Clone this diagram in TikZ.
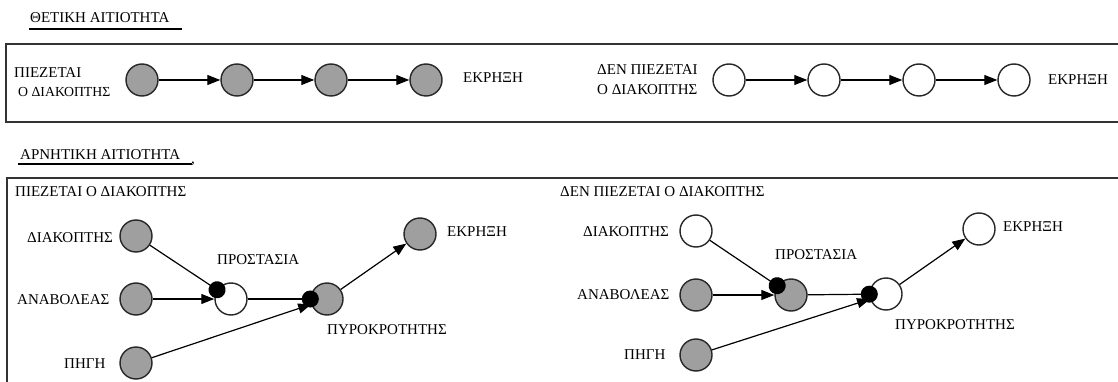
\documentclass[tikz,border=0pt]{standalone}
\usepackage{fontspec}
\setmainfont{Liberation Serif}
\usetikzlibrary{arrows.meta}
\begin{document}
\begin{tikzpicture}[x=1pt,y=-1pt,
  ev/.style={circle,draw=black!85,line width=1.4pt,minimum size=32pt,inner sep=0pt},
  on/.style={ev,fill=gray!75},
  off/.style={ev,fill=white},
  lbl/.style={inner sep=0pt,anchor=west,font=\fontsize{15}{17}\selectfont},
  cause/.style={line width=1.2pt,-{Triangle[length=13pt,width=10pt]}},
  inhib/.style={line width=1.2pt,-{Circle[length=17pt]},shorten >=-8.5pt},
  frame/.style={line width=1.3pt,draw=black!80},
  uline/.style={line width=1.6pt}]
\useasboundingbox (0,0) rectangle (1118,382);

% titles
\node[lbl] (t1) at (30,18) {ΘΕΤΙΚΗ ΑΙΤΙΟΤΗΤΑ};
\draw[uline] (29,29) -- (182,29);
\node[lbl] (t2) at (20,155) {ΑΡΝΗΤΙΚΗ ΑΙΤΙΟΤΗΤΑ};
\draw[uline] (18,164) -- (192,164);
\node[lbl,anchor=base west] (t2c) at (191,164) {,};

% frames
\draw[frame] (1122,44) -| (6,122) -- (1122,122);
\draw[frame] (1122,178) -| (7,386);

% positive causality, left
\node[lbl] (l1a) at (14,73) {ΠΙΕΖΕΤΑΙ};
\node[lbl,font=\fontsize{13.8}{16}\selectfont] (l1b) at (18,92) {Ο ΔΙΑΚΟΠΤΗΣ};
\node[on] (a1) at (142,80) {};
\node[on] (a2) at (237,80) {};
\node[on] (a3) at (331,80) {};
\node[on] (a4) at (426,80) {};
\node[lbl] (l1c) at (463,78) {ΕΚΡΗΞΗ};
\draw[cause] (a1) -- (a2);
\draw[cause] (a2) -- (a3);
\draw[cause] (a3) -- (a4);

% positive causality, right
\node[lbl] (l2a) at (597,70) {ΔΕΝ ΠΙΕΖΕΤΑΙ};
\node[lbl] (l2b) at (597,90) {Ο ΔΙΑΚΟΠΤΗΣ};
\node[off] (b1) at (729,80) {};
\node[off] (b2) at (824,80) {};
\node[off] (b3) at (919,80) {};
\node[off] (b4) at (1014,80) {};
\node[lbl] (l2c) at (1048,80) {ΕΚΡΗΞΗ};
\draw[cause] (b1) -- (b2);
\draw[cause] (b2) -- (b3);
\draw[cause] (b3) -- (b4);

% negative causality, left
\node[lbl] (h1) at (15,192) {ΠΙΕΖΕΤΑΙ Ο ΔΙΑΚΟΠΤΗΣ};
\node[on] (d1) at (136,236) {};
\node[on] (v1) at (136,299) {};
\node[on] (g1) at (136,363) {};
\node[off] (s1) at (231,299) {};
\node[on] (k1) at (327,299) {};
\node[on] (e1) at (420,234) {};
\node[lbl] (ld1) at (27,238) {ΔΙΑΚΟΠΤΗΣ};
\node[lbl] (lv1) at (17,300) {ΑΝΑΒΟΛΕΑΣ};
\node[lbl] (lg1) at (64,364) {ΠΗΓΗ};
\node[lbl] (ls1) at (217,260) {ΠΡΟΣΤΑΣΙΑ};
\node[lbl] (lk1) at (327,330) {ΠΥΡΟΚΡΟΤΗΤΗΣ};
\node[lbl] (le1) at (447,232) {ΕΚΡΗΞΗ};
\draw[cause] (v1) -- (s1);
\draw[cause] (g1) -- (k1);
\draw[cause] (k1) -- (e1);
\draw[inhib] (d1) -- (s1);
\draw[inhib] (s1) -- (k1);

% negative causality, right
\node[lbl] (h2) at (560,192) {ΔΕΝ ΠΙΕΖΕΤΑΙ Ο ΔΙΑΚΟΠΤΗΣ};
\node[off] (d2) at (696,231) {};
\node[on] (v2) at (696,295) {};
\node[on] (g2) at (696,355) {};
\node[on] (s2) at (791,295) {};
\node[off] (k2) at (886,294) {};
\node[off] (e2) at (979,229) {};
\node[lbl] (ld2) at (583,232) {ΔΙΑΚΟΠΤΗΣ};
\node[lbl] (lv2) at (577,295) {ΑΝΑΒΟΛΕΑΣ};
\node[lbl] (lg2) at (624,355) {ΠΗΓΗ};
\node[lbl] (ls2) at (775,255) {ΠΡΟΣΤΑΣΙΑ};
\node[lbl] (lk2) at (895,325) {ΠΥΡΟΚΡΟΤΗΤΗΣ};
\node[lbl] (le2) at (1003,227) {ΕΚΡΗΞΗ};
\draw[cause] (v2) -- (s2);
\draw[cause] (g2) -- (k2);
\draw[cause] (k2) -- (e2);
\draw[inhib] (d2) -- (s2);
\draw[inhib] (s2) -- (k2);
\end{tikzpicture}
\end{document}
